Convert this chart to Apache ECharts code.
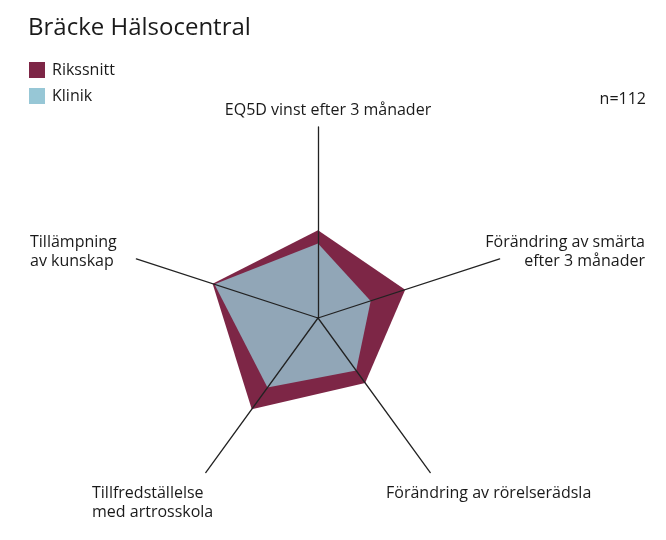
<!DOCTYPE html>
<html>
<head>
<meta charset="utf-8">
<script src="https://cdn.jsdelivr.net/npm/echarts@6/dist/echarts.min.js"></script>
<style>
  html, body { margin: 0; padding: 0; background: #fff; }
  #main { width: 666px; height: 540px; }
</style>
</head>
<body>
<div id="main"></div>
<script>
// data (radar goes counter-clockwise from the top)
var indicators = [
    'EQ5D vinst efter 3 månader',
    'Tillämpning\nav kunskap',
    'Tillfredställelse\nmed artrosskola',
    'Förändring av rörelserädsla',
    'Förändring av smärta\nefter 3 månader'
];
var rikssnitt = [46, 58, 59, 42, 48];
var klinik = [39, 57, 45, 34, 29];
var seriesNames = ['Rikssnitt', 'Klinik'];
var nText = 'n=112';

var myChart = echarts.init(document.getElementById('main'));
var font = "'Open Sans', 'Noto Sans', sans-serif";

// label placement for each indicator (x, y, align)
var labelPos = [
    [328, 110, 'center'],
    [30, 252, 'left'],
    [92, 503, 'left'],
    [386, 493, 'left'],
    [645, 252, 'right']
];

var labels = indicators.map(function (name, i) {
    return {
        type: 'text',
        x: labelPos[i][0],
        y: labelPos[i][1],
        style: {
            text: name,
            fill: '#1a1a1a',
            font: '16px ' + font,
            lineHeight: 19,
            align: labelPos[i][2],
            verticalAlign: 'middle'
        }
    };
});

var option = {
    backgroundColor: '#fff',
    title: {
        text: 'Bräcke Hälsocentral',
        left: 23,
        top: 11,
        textStyle: { fontFamily: font, fontSize: 24, fontWeight: 'normal', color: '#1a1a1a' }
    },
    legend: {
        orient: 'vertical',
        left: 29,
        top: 62,
        padding: 0,
        itemWidth: 16,
        itemHeight: 16,
        itemGap: 10,
        icon: 'rect',
        data: seriesNames,
        textStyle: { fontFamily: font, fontSize: 16, color: '#1a1a1a', padding: [0, 0, 0, 2] }
    },
    radar: {
        center: [318, 318],
        radius: 191,
        startAngle: 90,
        z: 3,
        indicator: indicators.map(function (n) { return { name: n, max: 100 }; }),
        axisName: { show: false },
        splitLine: { show: false },
        splitArea: { show: false },
        axisTick: { show: false },
        axisLabel: { show: false },
        axisLine: { lineStyle: { color: '#222', width: 1.3 } }
    },
    graphic: labels.concat([{
        type: 'text',
        x: 646,
        y: 99,
        style: { text: nText, fill: '#1a1a1a', font: '16px ' + font, align: 'right', verticalAlign: 'middle' }
    }]),
    series: [
        {
            type: 'radar',
            z: 1,
            symbol: 'none',
            itemStyle: { color: '#7d2646' },
            lineStyle: { width: 0, opacity: 0 },
            areaStyle: { color: '#7d2646', opacity: 1 },
            data: [{ name: seriesNames[0], value: rikssnitt }]
        },
        {
            type: 'radar',
            z: 2,
            symbol: 'none',
            itemStyle: { color: '#97c7d6' },
            lineStyle: { width: 0, opacity: 0 },
            areaStyle: { color: '#91a6b7', opacity: 1 },
            data: [{ name: seriesNames[1], value: klinik }]
        }
    ]
};
myChart.setOption(option);
</script>
</body>
</html>
